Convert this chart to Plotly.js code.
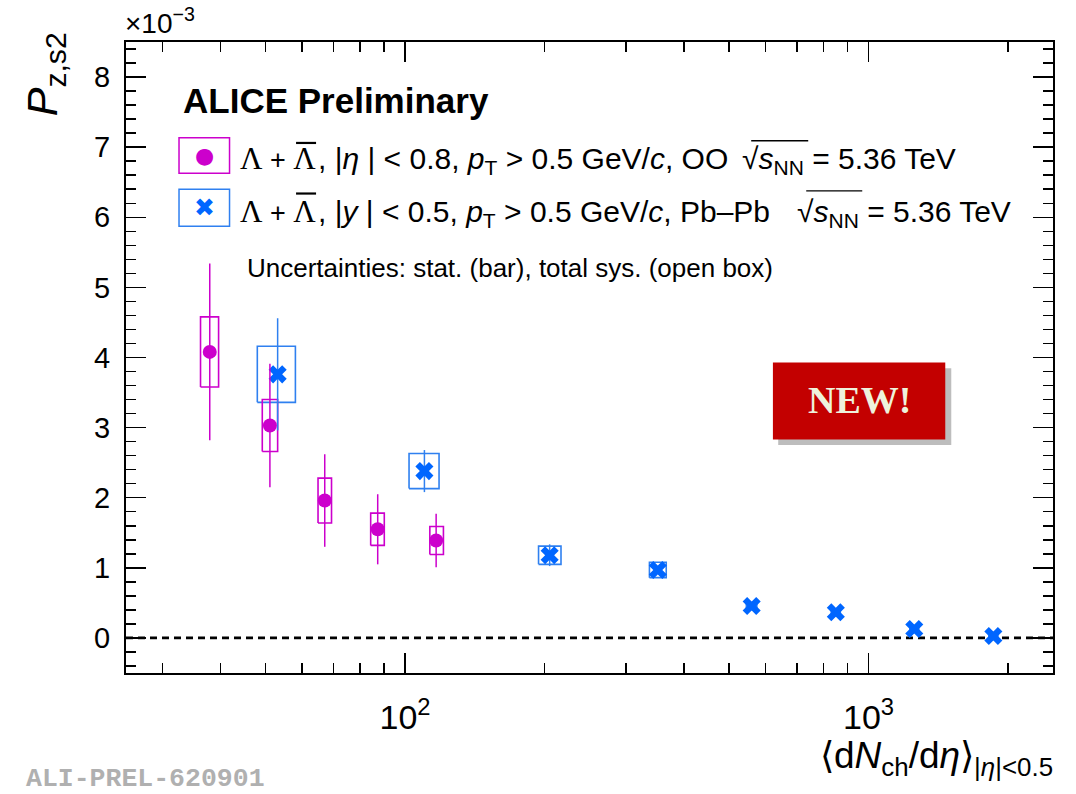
<!DOCTYPE html>
<html>
<head>
<meta charset="utf-8">
<script src="https://cdn.plot.ly/plotly-3.0.1.min.js"></script>
<style>html,body{margin:0;padding:0;background:#fff;}#chart{width:1076px;height:794px;}</style>
</head>
<body>
<div id="chart"></div>
<script>
// ---------- data ----------
// OO collisions
const ooX      = [37.9, 51.1, 67.1, 87.3, 116.7];
const ooY      = [4.08, 3.03, 1.96, 1.55, 1.39];
const ooStat   = [1.26, 0.88, 0.66, 0.50, 0.38];
const ooSys    = [0.50, 0.37, 0.32, 0.23, 0.20];
const ooBoxLo  = [36.2, 49.2, 64.9, 84.3, 113.1];
const ooBoxHi  = [39.6, 53.1, 69.4, 90.2, 121.0];
// Pb-Pb collisions
const pbX      = [53.1, 110.1, 205.1, 351, 559.5, 849.9, 1255, 1859];
const pbY      = [3.76, 2.38, 1.18, 0.97, 0.456, 0.366, 0.128, 0.028];
const pbStat   = [0.80, 0.30, 0.155, 0.05, 0.04, 0.04, 0.04, 0.04];
const pbSys    = [0.40, 0.25, 0.13, 0.11, 0.05, 0.05, 0.05, 0.05];
const pbBoxLo  = [48.0, 102, 194.1, 336.7, 545, 831, 1228, 1818];
const pbBoxHi  = [58.0, 118.4, 217.0, 366, 574, 869, 1283, 1901];
const xTickVals = [100, 1000];
const xTickText = ['10<sup>2</sup>', '10<sup>3</sup>'];

const MAG = '#cc00cc';
const BLUE = '#0066ff';
const BLUEBOX = '#2f80f0';

// pixel -> paper helpers (plot area 126..1052.7 x 41.7..673)
const L = 126, R = 1052.7, T = 41.7, B = 673;
const px = x => (x - L) / (R - L);
const py = y => (B - y) / (B - T);

function boxPath(lo, hi, y, s) {
  const X = [], Y = [];
  for (let i = 0; i < y.length; i++) {
    X.push(lo[i], hi[i], hi[i], lo[i], lo[i], null);
    Y.push(y[i] - s[i], y[i] - s[i], y[i] + s[i], y[i] + s[i], y[i] - s[i], null);
  }
  return {x: X, y: Y};
}

const ooB = boxPath(ooBoxLo, ooBoxHi, ooY, ooSys);
const pbB = boxPath(pbBoxLo, pbBoxHi, pbY, pbSys);

const traces = [
  {x: pbB.x, y: pbB.y, mode: 'lines', type: 'scatter', line: {color: BLUEBOX, width: 1.6}, hoverinfo: 'skip', showlegend: false},
  {x: ooB.x, y: ooB.y, mode: 'lines', type: 'scatter', line: {color: MAG, width: 1.6}, hoverinfo: 'skip', showlegend: false},
  {x: pbX, y: pbY, mode: 'markers', type: 'scatter',
   marker: {symbol: 'x', size: 16, color: BLUE, line: {width: 0}},
   error_y: {type: 'data', array: pbStat, visible: true, color: BLUEBOX, thickness: 1.5, width: 0},
   showlegend: false},
  {x: ooX, y: ooY, mode: 'markers', type: 'scatter',
   marker: {symbol: 'circle', size: 14, color: MAG, line: {width: 0}},
   error_y: {type: 'data', array: ooStat, visible: true, color: MAG, thickness: 1.5, width: 0},
   showlegend: false}
];

const F = 'Liberation Sans, Arial, Helvetica, sans-serif';
const SERIF = 'Liberation Serif, Times New Roman, serif';
const lamPair = '<span style="font-family:Liberation Serif;font-size:31px">Λ</span> + <span style="font-family:Liberation Serif;font-size:31px">Λ</span>';
const mid1 = ', |<i>η</i> | &lt; 0.8, <i>p</i><sub>T</sub> &gt; 0.5 GeV/<i>c</i>, OO';
const mid2 = ', |<i>y</i> | &lt; 0.5, <i>p</i><sub>T</sub> &gt; 0.5 GeV/<i>c</i>, Pb–Pb';
const sqrtTxt = '√<i>s</i><sub>NN</sub> = 5.36 TeV';

function ann(x, y, text, size, opts) {
  return Object.assign({xref: 'paper', yref: 'paper', x: px(x), y: py(y), xanchor: 'left', yanchor: 'middle',
    showarrow: false, text: text, font: {family: F, size: size, color: '#000'}}, opts || {});
}
function hline(x0, x1, y, w, c) {
  return {type: 'line', xref: 'paper', yref: 'paper', x0: px(x0), x1: px(x1), y0: py(y), y1: py(y),
    line: {color: c || '#000', width: w}};
}

const layout = {
  width: 1076, height: 794,
  margin: {l: L, r: 1076 - R, t: T, b: 794 - B, pad: 0},
  paper_bgcolor: '#ffffff', plot_bgcolor: '#ffffff',
  showlegend: false,
  font: {family: F, color: '#000'},
  xaxis: {
    type: 'log', range: [Math.log10(25), Math.log10(2500)],
    showline: true, linecolor: '#000', linewidth: 2, mirror: 'ticks',
    ticks: 'inside', ticklen: 20, tickwidth: 1.5, tickcolor: '#000',
    tickvals: xTickVals, ticktext: xTickText,
    tickfont: {family: F, size: 34, color: '#000'},
    ticklabelstandoff: 13,
    minor: {ticks: 'inside', ticklen: 10, tickwidth: 1.5, tickcolor: '#000', dtick: 'D1', showgrid: false},
    showgrid: false, zeroline: false
  },
  yaxis: {
    range: [-0.5, 8.5], dtick: 1, tick0: 0,
    showline: true, linecolor: '#000', linewidth: 2, mirror: 'ticks',
    ticks: 'inside', ticklen: 20, tickwidth: 1.5, tickcolor: '#000',
    tickfont: {family: F, size: 29, color: '#000'},
    ticklabelstandoff: 8,
    minor: {ticks: 'inside', ticklen: 10, tickwidth: 1.5, tickcolor: '#000', dtick: 0.2, showgrid: false},
    showgrid: false, zeroline: false
  },
  shapes: [
    {type: 'line', xref: 'paper', yref: 'y', x0: 0, x1: 1, y0: 0, y1: 0,
     line: {color: '#000', width: 2.8, dash: '7px,5px'}, layer: 'below'},
    {type: 'rect', xref: 'paper', yref: 'paper', x0: px(179), x1: px(229.5), y0: py(137.5), y1: py(173),
     line: {color: MAG, width: 1.5}},
    {type: 'rect', xref: 'paper', yref: 'paper', x0: px(179), x1: px(229.5), y0: py(189), y1: py(226),
     line: {color: BLUEBOX, width: 1.5}},
    // anti-Lambda bars
    hline(296, 316, 142.7, 2.2), hline(296, 316, 193.3, 2.2),
    // sqrt overlines
    hline(751, 808, 140.5, 1.3), hline(806, 862, 190.7, 1.3),
    // NEW badge shadow + box
    {type: 'rect', xref: 'paper', yref: 'paper', x0: px(778), x1: px(951), y0: py(368), y1: py(445),
     line: {width: 0}, fillcolor: 'rgba(90,90,90,0.40)'},
    {type: 'rect', xref: 'paper', yref: 'paper', x0: px(772.7), x1: px(945), y0: py(362.3), y1: py(439.3),
     line: {width: 0}, fillcolor: '#c30000'}
  ],
  annotations: [
    ann(181, 100, '<b>ALICE Preliminary</b>', 35),
    ann(204.5, 155.5, '●', 22, {xanchor: 'center', font: {family: 'DejaVu Sans', size: 22, color: MAG}}),
    ann(204.5, 207.5, '✖', 25, {xanchor: 'center', font: {family: 'DejaVu Sans', size: 25, color: BLUE}}),
    ann(238, 158, lamPair, 27),
    ann(316, 160, mid1, 30),
    ann(740, 160, sqrtTxt, 30),
    ann(238, 211, lamPair, 27),
    ann(316, 213, mid2, 30),
    ann(795, 213, sqrtTxt, 30),
    ann(245, 268, 'Uncertainties: stat. (bar), total sys. (open box)', 26),
    ann(45, 74, '<i>P</i><sub>z,s2</sub>', 43, {xanchor: 'center', textangle: -90}),
    ann(123, 21, '×10<sup>−3</sup>', 28),
    ann(1055, 758, '⟨d<i>N</i><sub>ch</sub>/d<i>η</i>⟩<sub>|<i>η</i>|&lt;0.5</sub>', 37, {xanchor: 'right'}),
    ann(24, 779, '<b>ALI-PREL-620901</b>', 26.5, {font: {family: 'Liberation Mono, Courier New, monospace', size: 26.5, color: '#b0b0b0'}}),
    ann(859, 400, '<b>NEW!</b>', 38, {xanchor: 'center', font: {family: SERIF, size: 38, color: '#eef2dc'}})
  ]
};

Plotly.newPlot('chart', traces, layout, {staticPlot: true, displayModeBar: false});
</script>
</body>
</html>
